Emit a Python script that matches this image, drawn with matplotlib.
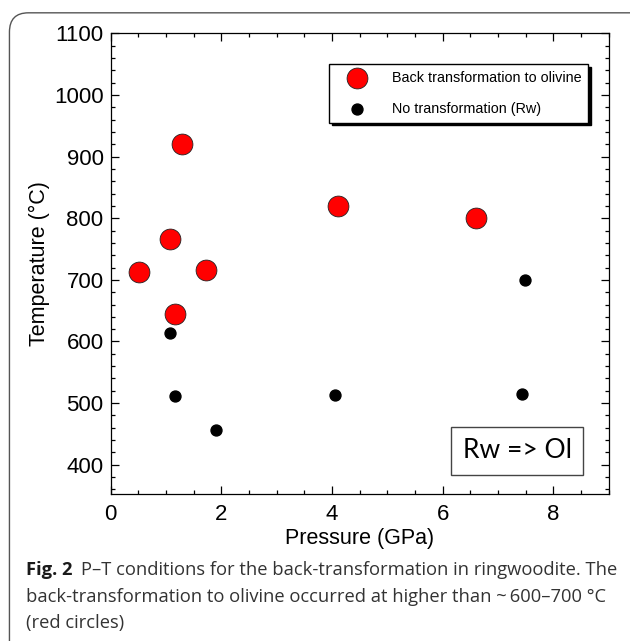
import matplotlib
matplotlib.use("Agg")
import matplotlib.pyplot as plt
from matplotlib.patches import FancyBboxPatch
from matplotlib.ticker import MultipleLocator

# pressure (GPa) and temperature (C)
back_p = [0.52, 1.07, 1.30, 1.73, 1.16, 4.11, 6.60]
back_t = [713, 767, 920, 716, 645, 820, 800]
none_p = [7.49, 1.07, 1.17, 1.90, 4.06, 7.43]
none_t = [700, 614, 512, 456, 513, 514]

labels = ["Back transformation to olivine", "No transformation (Rw)"]
caption_head = "Fig. 2"
caption_lines = [
    "P\u2013T conditions for the back-transformation in ringwoodite. The",
    "back-transformation to olivine occurred at higher than ~\u2009600\u2013700 \u00b0C",
    "(red circles)",
]

plt.rcParams["font.family"] = ["Liberation Sans", "DejaVu Sans"]

fig = plt.figure(figsize=(6.3, 6.41), dpi=100)

# rounded outer frame of the figure panel
frame = FancyBboxPatch((0.015, -0.05), 1.2, 1.03, boxstyle="round,pad=0,rounding_size=0.03",
                       transform=fig.transFigure, fc="none", ec="#555555", lw=1.0)
fig.patches.append(frame)

ax = fig.add_axes([0.1754, 0.2289, 0.7908, 0.719])

ax.scatter(back_p, back_t, s=225, c="#ff0000", edgecolors="#222222", linewidths=0.6,
           label=labels[0], zorder=3)
ax.scatter(none_p, none_t, s=62, c="black", label=labels[1], zorder=3)

ax.set_xlim(0, 9)
ax.set_ylim(352, 1100)
ax.xaxis.set_major_locator(MultipleLocator(2))
ax.xaxis.set_minor_locator(MultipleLocator(0.5))
ax.yaxis.set_major_locator(MultipleLocator(100))
ax.yaxis.set_minor_locator(MultipleLocator(20))
ax.tick_params(which="both", direction="in", top=True, right=True, width=0.9)
ax.tick_params(which="major", length=6, labelsize=16)
ax.tick_params(which="minor", length=3)
ax.tick_params(axis="x", pad=7)
ax.tick_params(axis="y", pad=5)
for sp in ax.spines.values():
    sp.set_linewidth(0.9)

ax.set_xlabel("Pressure (GPa)", fontsize=15.5, labelpad=2)
ax.set_ylabel("Temperature (\u00b0C)", fontsize=15.5, labelpad=3)

ax.legend(loc="upper right", bbox_to_anchor=(0.959, 0.933), borderaxespad=0,
          fontsize=10.4, frameon=True, fancybox=False, edgecolor="black",
          shadow={"facecolor": "black", "edgecolor": "black", "alpha": 1},
          handletextpad=1.0, borderpad=0.45, labelspacing=1.2, handlelength=2.9,
          scatterpoints=1)

ax.text(0.816, 0.094, "Rw => Ol", transform=ax.transAxes, ha="center", va="center",
        fontsize=19, family=["Lato", "DejaVu Sans"],
        bbox=dict(boxstyle="square,pad=0.42", fc="white", ec="#444444", lw=1.0))

cap_font = ["Open Sans", "DejaVu Sans"]
cap_size = 13.2
head = fig.text(0.041, 1 - 575 / 641, caption_head, fontsize=cap_size, weight="bold",
                family=cap_font, color="#1a1a1a", va="baseline")
ax.annotate(caption_lines[0], xy=(1, 0), xycoords=head, xytext=(6, 0),
            textcoords="offset points", fontsize=cap_size, family=cap_font,
            color="#333333", va="bottom", annotation_clip=False)
fig.text(0.041, 1 - 602 / 641, caption_lines[1], fontsize=cap_size, family=cap_font,
         color="#333333", va="baseline")
fig.text(0.041, 1 - 628 / 641, caption_lines[2], fontsize=cap_size, family=cap_font,
         color="#333333", va="baseline")

fig.savefig("out.png", dpi=100)
